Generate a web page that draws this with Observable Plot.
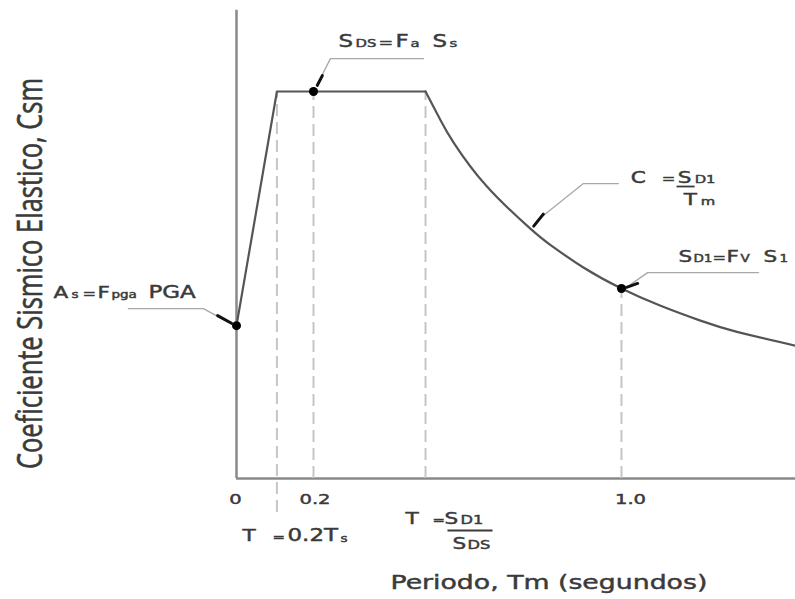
<!DOCTYPE html>
<html>
<head>
<meta charset="utf-8">
<script src="https://cdn.jsdelivr.net/npm/d3@7"></script>
<script src="https://cdn.jsdelivr.net/npm/@observablehq/plot@0.6"></script>
<style>
  html, body { margin: 0; padding: 0; background: #fff; }
  svg { display: block; }
</style>
</head>
<body>
<div id="chart"></div>
<script>
// ---------- data ----------
// rising branch + plateau : T (s) and Csm (relative to SDS = 1)
const rampT = [0, 0.105, 0.491];
const rampC = [0.395, 1.0, 1.0];
// descending branch C = SD1 / Tm
const decayT = [0.491, 0.53, 0.564, 0.65, 0.764, 0.816, 0.9, 1.0, 1.1, 1.205, 1.3, 1.452];
const decayC = [1.0, 0.926, 0.868, 0.755, 0.645, 0.603, 0.546, 0.491, 0.447, 0.408, 0.379, 0.343];
// marked points: As at T=0, SDS at T=0.2, SD1 at T=1.0
const keyT = [0, 0.2, 1.0];
const keyC = [0.395, 1.0, 0.491];
// dashed guide lines: T0, 0.2, Ts, 1.0
const guideT = [0.105, 0.2, 0.491, 1.0];
const guideTop = [1.0, 1.0, 1.0, 0.491];
const guideBottom = [-0.088, 0, 0, 0];
// tick labels
const tickValues = [0, 0.2, 1.0];
const tickLabels = ["0", "0.2", "1.0"];
// texts
const xTitle = "Periodo, Tm (segundos)";
const yTitle = "Coeficiente Sismico Elastico, Csm";
const sdsText = ["S", "DS", "=", "F", "a", "S", "s"];
const cText = ["C", "=", "S", "D1", "T", "m"];
const sd1Text = ["S", "D1", "=", "F", "V", "S", "1"];
const asText = ["A", "s", "=", "F", "pga", "PGA"];
const t0Text = ["T", "=", "0.2T", "s"];
const tsText = ["T", "=", "S", "D1", "S", "DS"];

// ---------- layout ----------
const ink = "#3a3a3a";
const FONT = "DejaVu Sans, Verdana, sans-serif";
const STRETCH = 1.35;

function label(x, y, texts, layout) {
  return texts.map((t, i) => {
    const [dx, dy, size] = layout[i];
    return Plot.text([{x, y, t}], {
      x: "x", y: "y", text: "t", dx, dy, fontSize: size,
      textAnchor: "start", lineAnchor: "bottom", fill: ink, fontFamily: FONT
    });
  });
}

const rampData = rampT.map((t, i) => ({t, c: rampC[i]}));
const decayData = decayT.map((t, i) => ({t, c: decayC[i]}));
const keyData = keyT.map((t, i) => ({t, c: keyC[i]}));
const guideData = guideT.map((t, i) => ({t, top: guideTop[i], bottom: guideBottom[i]}));

const leaderColor = "#a8a8a8";
const leaders = [
  [[0.486, 1.085], [0.244, 1.085], [0.218, 1.034]],
  [[0.992, 0.762], [0.901, 0.762], [0.790, 0.674]],
  [[1.356, 0.532], [1.068, 0.532], [1.023, 0.501]],
  [[-0.281, 0.439], [-0.086, 0.439], [-0.029, 0.408]]
];
const arrowTicks = [
  [[0.223, 1.041], [0.210, 1.016]],
  [[0.797, 0.683], [0.772, 0.652]],
  [[1.042, 0.504], [1.013, 0.494]],
  [[-0.049, 0.421], [-0.013, 0.401]]
];
const tickDx = [-1, 1.5, 9];

const marks = [
  // axes lines
  Plot.ruleX([0], {y1: 0, y2: 1.21, stroke: "#8a8a8a", strokeWidth: 2.5}),
  Plot.ruleY([0], {x1: 0, x2: 1.452, stroke: "#8a8a8a", strokeWidth: 2.5}),
  // dashed guides
  Plot.ruleX(guideData, {x: "t", y1: "bottom", y2: "top", stroke: "#c6c6c6", strokeWidth: 2, strokeDasharray: "12,6"}),
  // spectrum
  Plot.line(rampData, {x: "t", y: "c", stroke: "#555", strokeWidth: 2.2}),
  Plot.line(decayData, {x: "t", y: "c", stroke: "#555", strokeWidth: 2.2, curve: "natural"}),
  // leaders
  ...leaders.map(l => Plot.line(l, {stroke: leaderColor, strokeWidth: 1.3})),
  ...arrowTicks.map(l => Plot.line(l, {stroke: "#111", strokeWidth: 3, strokeLinecap: "round"})),
  // fraction bars
  Plot.link([{x1: 1.143, x2: 1.190, y: 0.7545}], {x1: "x1", x2: "x2", y1: "y", y2: "y", stroke: ink, strokeWidth: 1.8}),
  Plot.link([{x1: 0.548, x2: 0.665, y: -0.1344}], {x1: "x1", x2: "x2", y1: "y", y2: "y", stroke: ink, strokeWidth: 1.8}),
  // points
  Plot.dot(keyData, {x: "t", y: "c", r: 4.5, fill: "#000"}),
  // tick labels
  ...tickValues.map((v, i) => Plot.text([{v, s: tickLabels[i]}], {
    x: "v", y: () => 0, text: "s", dx: tickDx[i], dy: 25, fontSize: 14.5,
    textAnchor: "middle", lineAnchor: "bottom", fill: ink, fontFamily: FONT
  })),
  // annotation labels
  ...label(0.2, 1.0, sdsText, [[25,-45,17],[42,-45,11],[65,-45,13],[82,-45,17],[97,-45,11],[119,-45,17],[136,-45,11]]),
  ...label(0.777, 0.65, cText, [[95,-43.5,16],[126,-43.5,12],[142,-43.5,16],[159,-43.5,11],[148,-21.5,16],[165,-21.5,11]]),
  ...label(1.0, 0.491, sd1Text, [[57,-26,16],[72,-26,10],[91,-26,12],[105,-26,16],[119,-26,10],[142,-26,16],[158,-26,10]]),
  ...label(0, 0.395, asText, [[-183,-28,16],[-165,-28,10],[-154,-28,12],[-139,-28,16],[-125,-28,10],[-88,-28,17]]),
  ...label(0.105, 0, t0Text, [[-34.4,62,16],[-4.4,62,11],[10.6,62,17],[63.6,63,10]]),
  ...label(0.491, 0, tsText, [[-20,45,16],[7,45,11],[19,45,16],[35,45,12],[27,70,16],[42,70,12]]),
  // axis titles
  Plot.text([xTitle], {x: () => 0, y: () => 0, text: d => d, dx: 154, dy: 110, fontSize: 19.8,
    textAnchor: "start", lineAnchor: "bottom", fill: ink, fontFamily: FONT}),
  Plot.text([yTitle], {x: () => 0, y: () => 0, text: d => d, dx: -206, dy: -205, fontSize: 25.5, rotate: -90,
    textAnchor: "middle", lineAnchor: "middle", fill: ink, fontFamily: "Open Sans, sans-serif"})
];

const chart = Plot.plot({
  width: 795,
  height: 599,
  marginTop: 0, marginRight: 0, marginBottom: 0, marginLeft: 0,
  x: {domain: [0, 1.452], range: [236, 795], axis: null},
  y: {domain: [0, 1.21], range: [478, 9.73], axis: null},
  style: {background: "#fff", overflow: "visible"},
  marks
});

// horizontal stretch + slightly heavier lettering (the reference is widened and blurred)
chart.querySelectorAll("text").forEach(t => {
  const tr = t.getAttribute("transform");
  if (tr && /translate\([^)]*\)/.test(tr)) {
    t.setAttribute("transform", tr.replace(/(translate\([^)]*\))/, `$1 scale(${STRETCH},1)`));
  } else {
    const x = +t.getAttribute("x") || 0;
    t.setAttribute("transform", `translate(${x},0) scale(${STRETCH},1) translate(${-x},0)` + (tr ? " " + tr : ""));
  }
  t.setAttribute("stroke", ink);
  t.setAttribute("stroke-width", "0.45");
});

document.getElementById("chart").appendChild(chart);
</script>
</body>
</html>
